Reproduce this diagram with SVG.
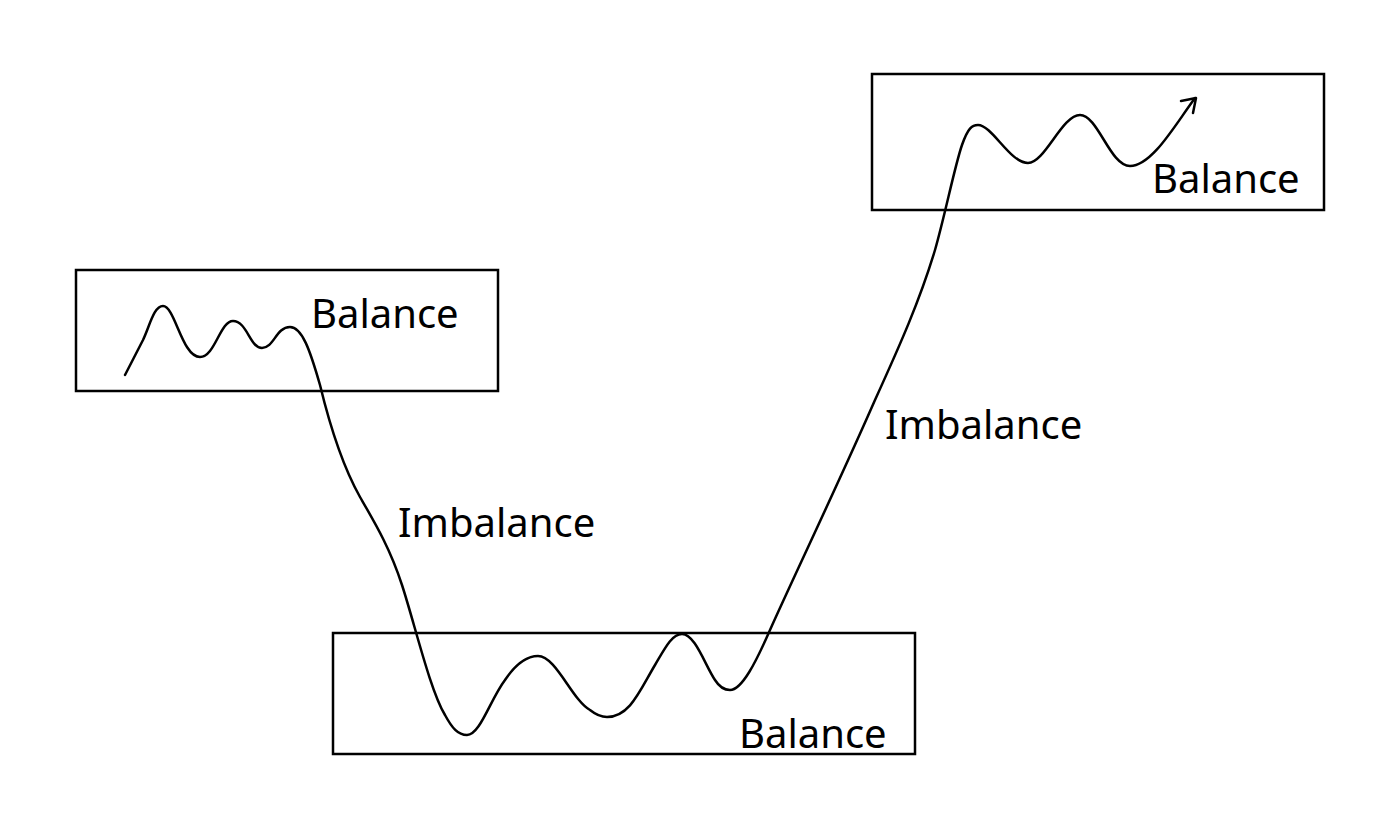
<svg xmlns="http://www.w3.org/2000/svg" width="1378" height="825" viewBox="0 0 1378 825">
<style>
.box{fill:none;stroke:#000;stroke-width:2.5}
.line{fill:none;stroke:#000;stroke-width:2.5;stroke-linecap:round;stroke-linejoin:round}
.lbl{font-family:"Noto Sans","Open Sans","DejaVu Sans",sans-serif;font-size:40px;fill:#000}
</style>
<rect width="1378" height="825" fill="#fff"/>
<g id="box-left">
<rect class="box" x="76" y="270" width="422" height="121"/>
<text class="lbl" x="311" y="328">Balance</text>
</g>
<g id="box-bottom">
<rect class="box" x="333" y="633" width="582" height="121"/>
<text class="lbl" x="739" y="748">Balance</text>
</g>
<g id="box-top">
<rect class="box" x="872" y="74" width="452" height="136"/>
<text class="lbl" x="1152" y="193">Balance</text>
</g>
<g id="label-imbalance-1">
<text class="lbl" x="398" y="537">Imbalance</text>
</g>
<g id="label-imbalance-2">
<text class="lbl" x="885" y="439">Imbalance</text>
</g>
<g id="connectors">
<path class="line" d="M125,375 L143,340 C150,325 154,306 163,306 C175,306 182,357 200,357 C215,357 220,321 233,321 C247,321 250,348 262,348 C274,348 276,327 290,327 C302,327 310,350 320,385 C328,418 342,465 360,497 C375,523 390,548 402,585 C415,625 430,690 445,715 C452,728 458,735 467,735 C480,735 490,700 505,680 C515,665 525,656 538,656 C556,656 572,700 590,710 C595,714 600,717 607,717 C630,717 640,690 655,665 C665,648 672,634 682,634 C695,634 705,665 715,680 C720,688 725,690 730,690 C742,690 756,662 770,630 C790,585 840,480 875,400 C900,345 920,300 935,250 C945,215 955,165 962,145 C968,128 972,125 978,125 C992,125 1010,163 1028,163 C1045,163 1062,115 1080,115 C1098,115 1110,166 1130,166 C1152,166 1175,125 1195,98"/>
<path class="line" d="M1181,101 L1196,98 L1193,113"/>
</g>
</svg>
